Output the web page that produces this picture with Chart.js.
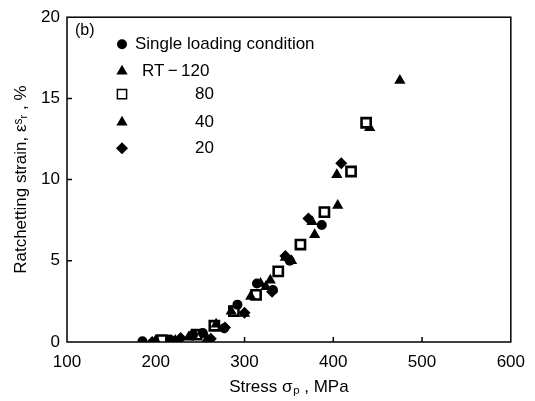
<!DOCTYPE html>
<html>
<head>
<meta charset="utf-8">
<script src="https://cdn.jsdelivr.net/npm/chart.js@4/dist/chart.umd.min.js"></script>
<style>
  html, body { margin: 0; padding: 0; background: #fff; }
  #wrap { width: 535px; height: 401px; }
</style>
</head>
<body>
<div id="wrap"><canvas id="chart" width="535" height="401"></canvas></div>
<script>
// --- data (stress MPa, ratchetting strain %) ---
const xTicks = [100, 200, 300, 400, 500, 600];
const yTicks = [0, 5, 10, 15, 20];

const singleStress = [185, 216, 242, 253, 277, 292, 314, 332, 351, 387];
const singleStrain = [0.05, 0.15, 0.45, 0.55, 0.85, 2.3, 3.6, 3.2, 5.0, 7.2];

const rt120Stress = [200, 237, 268, 285, 307, 318, 329, 346, 376, 405];
const rt120Strain = [0.1, 0.3, 1.1, 1.9, 2.8, 3.6, 3.8, 5.2, 7.4, 8.4];

const t80Stress = [207, 246, 266, 288, 313, 338, 363, 390, 420, 437];
const t80Strain = [0.12, 0.45, 1.0, 1.9, 2.9, 4.35, 6.0, 8.0, 10.5, 13.5];

const t40Stress = [222, 258, 300, 324, 353, 379, 404, 441, 475];
const t40Strain = [0.1, 0.2, 1.75, 3.4, 5.0, 6.6, 10.3, 13.2, 16.1];

const t20Stress = [196, 228, 262, 278, 300, 331, 346, 372, 409];
const t20Strain = [0.0, 0.25, 0.2, 0.9, 1.8, 3.1, 5.3, 7.6, 11.0];

const legendLabels = ['Single loading condition', 'RT\u2009\u2212\u2009120', '80', '40', '20'];

const pts = (xs, ys) => xs.map((x, i) => ({ x: x, y: ys[i] }));

const styles = [
  { pointStyle: 'circle', radius: 5, bg: '#000', bw: 0 },
  { pointStyle: 'triangle', radius: 6.5, bg: '#000', bw: 0 },
  { pointStyle: 'rect', radius: 6.5, bg: '#fff', bw: 2.6 },
  { pointStyle: 'triangle', radius: 6.5, bg: '#000', bw: 0 },
  { pointStyle: 'rectRot', radius: 6, bg: '#000', bw: 0 }
];
const seriesData = [
  pts(singleStress, singleStrain),
  pts(rt120Stress, rt120Strain),
  pts(t80Stress, t80Strain),
  pts(t40Stress, t40Strain),
  pts(t20Stress, t20Strain)
];

const FONT = 'Liberation Sans, Arial, sans-serif';

// frame, inward ticks and the in-plot legend
const framePlugin = {
  id: 'frame',
  afterDraw(chart) {
    const { ctx, chartArea: a, scales } = chart;
    ctx.save();
    ctx.strokeStyle = '#000';
    ctx.lineWidth = 1.5;
    ctx.strokeRect(a.left, a.top, a.right - a.left, a.bottom - a.top);
    ctx.beginPath();
    xTicks.slice(1, -1).forEach(v => {
      const px = scales.x.getPixelForValue(v);
      ctx.moveTo(px, a.bottom); ctx.lineTo(px, a.bottom - 5);
    });
    yTicks.slice(1, -1).forEach(v => {
      const py = scales.y.getPixelForValue(v);
      ctx.moveTo(a.left, py); ctx.lineTo(a.left + 5, py);
    });
    ctx.stroke();

    // legend
    ctx.fillStyle = '#000';
    ctx.font = '16px ' + FONT;
    ctx.textBaseline = 'middle';
    ctx.textAlign = 'left';
    ctx.fillText('(b)', a.left + 8, a.top + 13);

    const rows = [a.top + 27, a.top + 54, a.top + 77, a.top + 105, a.top + 131];
    const mx = a.left + 55;
    rows.forEach((y, i) => {
      const s = styles[i];
      ctx.fillStyle = s.bg;
      ctx.strokeStyle = '#000';
      Chart.helpers.drawPoint(ctx, { pointStyle: s.pointStyle, radius: s.radius, borderWidth: s.bw, rotation: 0 }, mx, y);
      ctx.fillStyle = '#000';
      ctx.font = '17px ' + FONT;
      if (i === 0) {
        ctx.textAlign = 'left';
        ctx.fillText(legendLabels[i], a.left + 68, y);
      } else if (i === 1) {
        ctx.textAlign = 'left';
        ctx.fillText(legendLabels[i], a.left + 75, y);
      } else {
        ctx.textAlign = 'right';
        ctx.fillText(legendLabels[i], a.left + 147, y);
      }
    });
    ctx.restore();
  }
};

new Chart(document.getElementById('chart'), {
  type: 'scatter',
  data: {
    datasets: seriesData.map((d, i) => ({
      label: legendLabels[i],
      data: d,
      pointStyle: styles[i].pointStyle,
      pointRadius: styles[i].radius,
      pointHoverRadius: styles[i].radius,
      pointBackgroundColor: styles[i].bg,
      pointBorderColor: '#000',
      pointBorderWidth: styles[i].bw
    }))
  },
  options: {
    responsive: false,
    animation: false,
    layout: { padding: { left: 0, right: 18, top: 16, bottom: 0 } },
    plugins: { legend: { display: false }, tooltip: { enabled: false } },
    scales: {
      x: {
        type: 'linear', min: 100, max: 600,
        afterFit: s => { s.height = 59; },
        afterBuildTicks: s => { s.ticks = xTicks.map(v => ({ value: v })); },
        grid: { display: false, drawTicks: false },
        border: { display: false },
        ticks: { color: '#000', padding: 10, font: { family: FONT, size: 17 } },
        title: { display: true, text: 'Stress \u03c3\u209a , MPa', color: '#000', padding: { top: 0, bottom: 3 }, font: { family: FONT, size: 17 } }
      },
      y: {
        type: 'linear', min: 0, max: 20,
        afterFit: s => { s.width = 67; },
        afterBuildTicks: s => { s.ticks = yTicks.map(v => ({ value: v })); },
        grid: { display: false, drawTicks: false },
        border: { display: false },
        ticks: { color: '#000', padding: 7, font: { family: FONT, size: 17 } },
        title: { display: true, text: 'Ratchetting strain, \u03b5\u02e2\u1d63 , %', color: '#000', padding: { top: 11, bottom: 0 }, font: { family: FONT, size: 17 } }
      }
    }
  },
  plugins: [framePlugin]
});
</script>
</body>
</html>
